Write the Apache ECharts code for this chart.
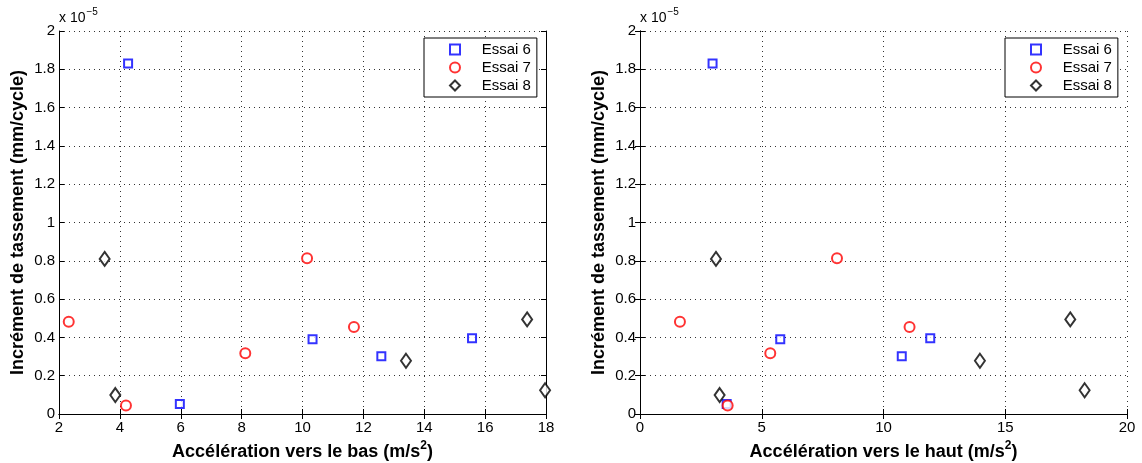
<!DOCTYPE html>
<html>
<head>
<meta charset="utf-8">
<script src="https://cdn.jsdelivr.net/npm/echarts@6/dist/echarts.min.js"></script>
<style>
  html, body { margin: 0; padding: 0; background: #fff; }
  #chart { width: 1142px; height: 463px; }
</style>
</head>
<body>
<div id="chart"></div>
<script>
// increments in units of 1e-5 mm/cycle
const incEssai6 = [1.83, 0.052, 0.39, 0.301, 0.395];
const incEssai7 = [0.482, 0.045, 0.317, 0.813, 0.454];
const incEssai8 = [0.81, 0.099, 0.278, 0.494, 0.124];

// acceleration downward (m/s2)
const basEssai6 = [4.27, 5.97, 10.33, 12.59, 15.57];
const basEssai7 = [2.32, 4.2, 8.12, 10.15, 11.69];
const basEssai8 = [3.5, 3.85, 13.4, 17.38, 17.97];

// acceleration upward (m/s2)
const hautEssai6 = [2.98, 3.56, 5.76, 10.75, 11.92];
const hautEssai7 = [1.64, 3.6, 5.35, 8.09, 11.07];
const hautEssai8 = [3.12, 3.27, 13.96, 17.67, 18.26];

const seriesNames = ["Essai 6", "Essai 7", "Essai 8"];

const chartDom = document.getElementById("chart");
const myChart = echarts.init(chartDom);

const font = "Liberation Sans";

function zip(xs, ys) {
  return xs.map((x, i) => [x, ys[i]]);
}

const titleRich = {
  n: { fontFamily: font, fontSize: 18, fontWeight: "bold", color: "#000", verticalAlign: "bottom" },
  sup: { fontFamily: font, fontSize: 12, fontWeight: "bold", color: "#000", verticalAlign: "bottom", padding: [0, 0, 9, 0] },
};

function mainX(gridIndex, min, max, interval, word) {
  return {
    type: "value",
    gridIndex: gridIndex,
    min: min,
    max: max,
    interval: interval,
    position: "bottom",
    name: "{n|Accélération vers le " + word + " (m/s}{sup|2}{n|)}",
    nameLocation: "middle",
    nameGap: 20,
    nameTextStyle: { fontFamily: font, fontSize: 18, fontWeight: "bold", color: "#000", rich: titleRich },
    axisLine: { lineStyle: { color: "#000", width: 1 } },
    axisTick: { inside: true, length: 5, lineStyle: { color: "#000" } },
    axisLabel: { fontFamily: font, fontSize: 15, color: "#000", margin: 6 },
    splitLine: { show: true, lineStyle: { color: "#333", type: [1, 4], width: 1 } },
  };
}

function boxX(gridIndex, min, max, interval) {
  return {
    type: "value",
    gridIndex: gridIndex,
    min: min,
    max: max,
    interval: interval,
    position: "top",
    axisLine: { lineStyle: { color: "#000", width: 1 } },
    axisTick: { inside: true, length: 5, lineStyle: { color: "#000" } },
    axisLabel: { show: false },
    splitLine: { show: false },
  };
}

function mainY(gridIndex) {
  return {
    type: "value",
    gridIndex: gridIndex,
    min: 0,
    max: 2,
    interval: 0.2,
    position: "left",
    name: "Incrément de tassement (mm/cycle)",
    nameLocation: "middle",
    nameGap: 32,
    nameTextStyle: { fontFamily: font, fontSize: 18, fontWeight: "bold", color: "#000" },
    axisLine: { lineStyle: { color: "#000", width: 1 } },
    axisTick: { inside: true, length: 5, lineStyle: { color: "#000" } },
    axisLabel: {
      fontFamily: font,
      fontSize: 15,
      color: "#000",
      margin: 4,
      formatter: function (v) {
        return String(Math.round(v * 10) / 10);
      },
    },
    splitLine: { show: true, lineStyle: { color: "#333", type: [1, 4], width: 1 } },
  };
}

function boxY(gridIndex) {
  return {
    type: "value",
    gridIndex: gridIndex,
    min: 0,
    max: 2,
    interval: 0.2,
    position: "right",
    axisLine: { lineStyle: { color: "#000", width: 1 } },
    axisTick: { inside: true, length: 5, lineStyle: { color: "#000" } },
    axisLabel: { show: false },
    splitLine: { show: false },
  };
}

function scatter(name, axisIdx, data) {
  const styles = {
    "Essai 6": { symbol: "emptyRect", size: 8, color: "#0000ff" },
    "Essai 7": { symbol: "emptyCircle", size: 10, color: "#ff0000" },
    "Essai 8": { symbol: "emptyDiamond", size: [10, 14], color: "#000000" },
  };
  const s = styles[name];
  return {
    name: name,
    type: "scatter",
    xAxisIndex: axisIdx,
    yAxisIndex: axisIdx,
    symbol: s.symbol,
    symbolSize: s.size,
    itemStyle: { color: s.color, borderColor: s.color, borderWidth: 1 },
    data: data,
  };
}

function legendAt(left) {
  return {
    orient: "vertical",
    left: left,
    top: 38,
    data: seriesNames,
    backgroundColor: "#fff",
    borderColor: "#000",
    borderWidth: 1,
    borderRadius: 0,
    padding: [4, 6, 4, 25],
    itemGap: 3,
    itemWidth: 10,
    itemHeight: 10,
    selectedMode: false,
    formatter: function (name) {
      return "    " + name;
    },
    textStyle: { fontFamily: font, fontSize: 15, color: "#000" },
  };
}

function exponent(left) {
  return {
    type: "text",
    left: left,
    top: 7,
    style: {
      text: "{b|x 10}{s|−5}",
      rich: {
        b: { fontFamily: font, fontSize: 14, fill: "#000", verticalAlign: "bottom" },
        s: { fontFamily: font, fontSize: 10, fill: "#000", padding: [0, 0, 8, 1], verticalAlign: "bottom" },
      },
    },
  };
}

const option = {
  animation: false,
  backgroundColor: "#fff",
  grid: [
    { left: 59, top: 31, width: 487, height: 383, outerBoundsMode: "none", containLabel: false },
    { left: 640, top: 31, width: 487, height: 383, outerBoundsMode: "none", containLabel: false },
  ],
  xAxis: [
    mainX(0, 2, 18, 2, "bas"),
    mainX(1, 0, 20, 5, "haut"),
    boxX(0, 2, 18, 2),
    boxX(1, 0, 20, 5),
  ],
  yAxis: [mainY(0), mainY(1), boxY(0), boxY(1)],
  legend: [legendAt(424), legendAt(1005)],
  graphic: [exponent(59), exponent(640)],
  series: [
    scatter("Essai 6", 0, zip(basEssai6, incEssai6)),
    scatter("Essai 7", 0, zip(basEssai7, incEssai7)),
    scatter("Essai 8", 0, zip(basEssai8, incEssai8)),
    scatter("Essai 6", 1, zip(hautEssai6, incEssai6)),
    scatter("Essai 7", 1, zip(hautEssai7, incEssai7)),
    scatter("Essai 8", 1, zip(hautEssai8, incEssai8)),
  ],
};

window.addEventListener("resize", function () {
  myChart.resize();
});

option && myChart.setOption(option);
</script>
</body>
</html>
